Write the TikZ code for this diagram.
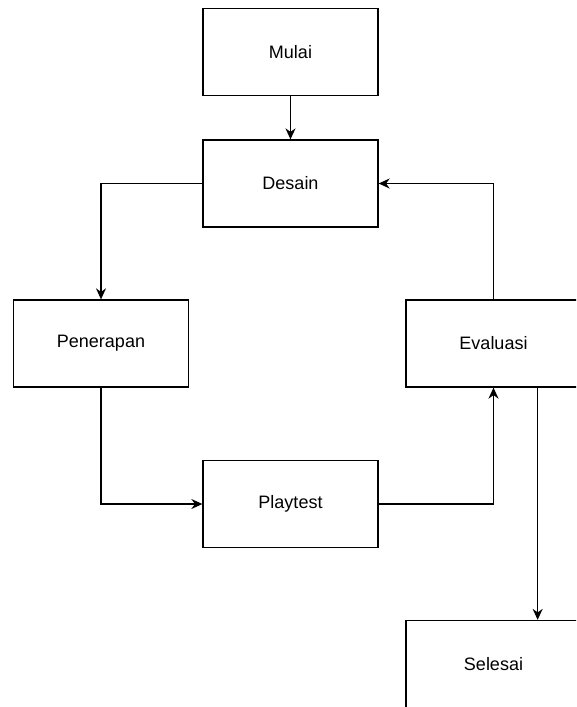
\documentclass[tikz,border=0pt]{standalone}
\usepackage{fontspec}
\setmainfont{Liberation Sans}
\usepackage{tikz}
\usetikzlibrary{positioning}
\usetikzlibrary{calc,arrows.meta}

\begin{document}
\begin{tikzpicture}
	[   x=1pt,y=-1pt,
		bnode/.style={draw=black,fill=#1,line width=1.3pt,minimum width=175pt,minimum height=87pt,inner sep=0pt,rectangle,font=\fontsize{18}{22}\selectfont},
	]
	\tikzset{normal arrow/.style={draw,line width=1.3pt,-{Stealth[length=11pt,width=10pt]}}}
	\clip (0,0) rectangle (576,707);
	
	\node[bnode=white] (mulai) at (290.5,52) {Mulai};
	\node[bnode=white] (desain) at (290.5,183.5) {Desain};
	\node[bnode=white] (penerapan) at (101,343.5) {Penerapan};
	\node[bnode=white] (evaluasi) at (493.5,343.5) {Evaluasi};
	\node[bnode=white] (playtest) at (290.5,504) {Playtest};
	\node[bnode=white] (selesai) at (493.5,664) {Selesai};
	
	\path[normal arrow] (mulai) -- (desain);
	\path[normal arrow] (desain.west) -| (penerapan.north);
	\path[normal arrow] (penerapan.south) |- (playtest.west);
	\path[normal arrow] (playtest.east) -| (evaluasi.south);
	\path[normal arrow] (evaluasi.north) |- (desain.east);
	\path[normal arrow] (evaluasi.-45) -- (evaluasi.-45 |- selesai.north);
	\end{tikzpicture}
\end{document}
